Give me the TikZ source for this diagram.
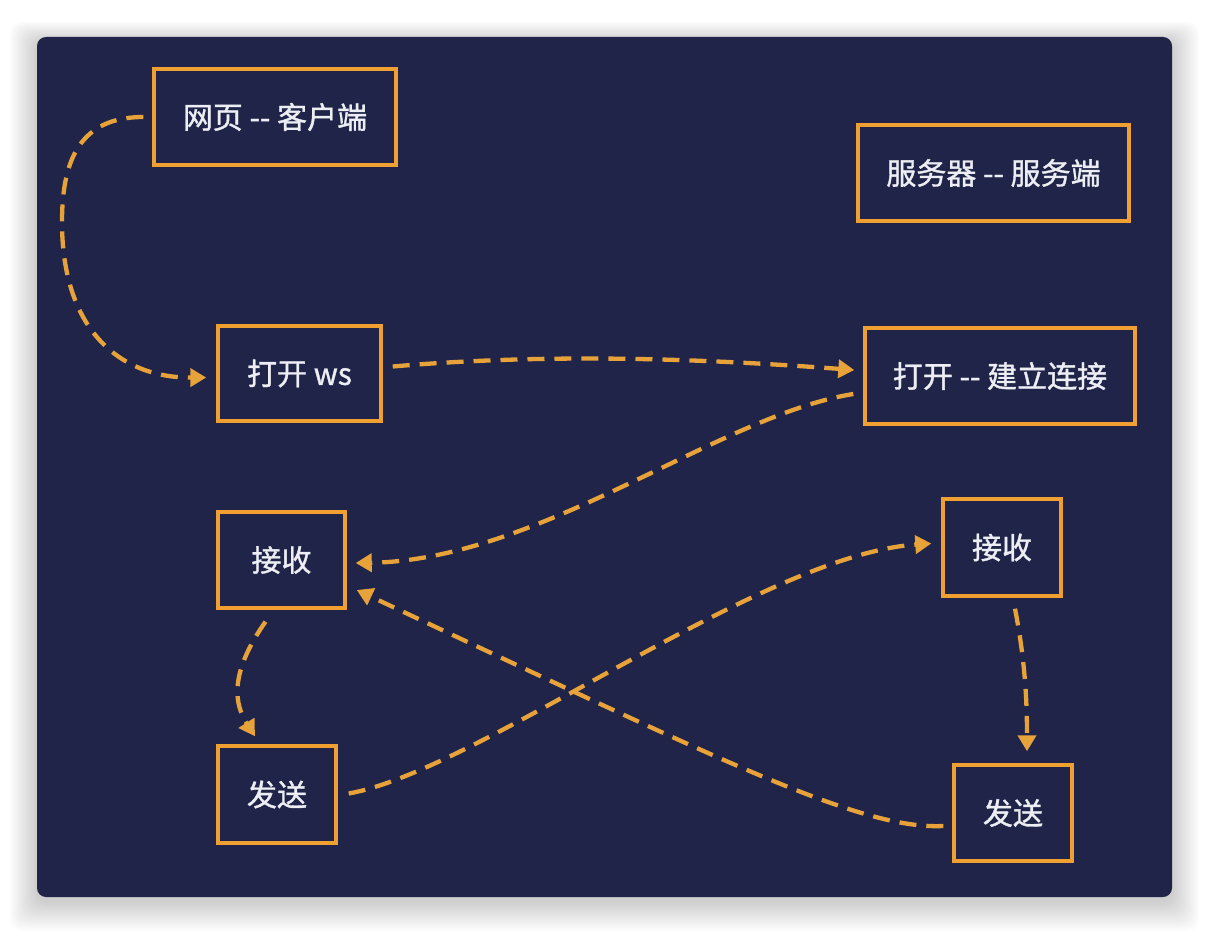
\documentclass[tikz,border=0pt]{standalone}
\usepackage{fontspec}
\newfontfamily\cjk[FakeBold=1.2]{Noto Sans CJK SC}
\usetikzlibrary{arrows.meta}
\definecolor{navy}{HTML}{1F2448}
\definecolor{boxorange}{HTML}{F0A030}
\definecolor{dashorange}{HTML}{E8A23A}
\definecolor{txt}{HTML}{ECEEF4}
\begin{document}
\begin{tikzpicture}[x=1pt,y=-1pt,
  stepbox/.style={draw=boxorange, line width=3.4pt, fill=navy, text=txt,
    font=\cjk\fontsize{30}{33}\selectfont, inner sep=0pt, anchor=center},
  conn/.style={draw=dashorange, line width=4.3pt, dash pattern=on 17pt off 10pt,
    -{Triangle[length=16pt,width=18pt]}}]
\useasboundingbox (0,0) rectangle (1208,934);
\fill[white] (0,0) rectangle (1208,934);
\foreach \i in {1,...,16}{
  \fill[black, opacity=0.012, rounded corners=12pt]
    (37-1.7*\i,37-1.2*\i+4) rectangle (1172+1.7*\i,897+1.9*\i+4);
}
\fill[navy, rounded corners=9pt] (37,37) rectangle (1172,897);

\node[stepbox, minimum width=242pt, minimum height=96pt] (web) at (275,117) {网页 -{}- 客户端};
\node[stepbox, minimum width=271pt, minimum height=96pt] (srv) at (993.5,173) {服务器 -{}- 服务端};
\node[stepbox, minimum width=163pt, minimum height=95pt] (open) at (299.5,373.5) {打开 ws};
\node[stepbox, minimum width=270pt, minimum height=96pt] (conn) at (1000,376) {打开 -{}- 建立连接};
\node[stepbox, minimum width=127pt, minimum height=96pt] (recvL) at (281.5,560) {接收};
\node[stepbox, minimum width=118pt, minimum height=97pt] (recvR) at (1002,547.5) {接收};
\node[stepbox, minimum width=118pt, minimum height=97pt] (sendL) at (277,794.5) {发送};
\node[stepbox, minimum width=118pt, minimum height=96pt] (sendR) at (1013,813) {发送};

\coordinate (bend) at (62,222);

% web -> open ws
\draw[conn] ([xshift=-9pt]web.west) .. controls (80,117) and (62,160) .. (bend)
  .. controls (62,330) and (120,378) .. ([xshift=-10pt,yshift=-4pt]open.west);
% open ws -> connect
\draw[conn] ([xshift=10pt,yshift=7pt]open.east) .. controls (560,352) and (720,360) .. ([xshift=-9pt,yshift=6pt]conn.west);
% connect -> recv left
\draw[conn] ([xshift=-10pt,yshift=-18pt]conn.west) .. controls (720,415) and (540,560) .. ([xshift=9pt,yshift=-3pt]recvL.east);
% recv left -> send left
\draw[conn] ([xshift=-16pt,yshift=-12pt]recvL.south) .. controls (228,675) and (235,705) .. ([xshift=-22pt,yshift=8pt]sendL.north);
% send left -> recv right
\draw[conn] ([xshift=11pt,yshift=1pt]sendL.east) .. controls (480,770) and (760,555) .. ([xshift=-10pt,yshift=4pt]recvR.west);
% send right -> recv left
\draw[conn] ([xshift=-9pt,yshift=-13pt]sendR.west) .. controls (860,830) and (720,760) .. ([xshift=10pt,yshift=-30pt]recvL.east);
% recv right -> send right
\draw[conn] ([xshift=13pt,yshift=-11pt]recvR.south) .. controls (1025,660) and (1027,700) .. ([xshift=14pt,yshift=12pt]sendR.north);
\end{tikzpicture}
\end{document}
